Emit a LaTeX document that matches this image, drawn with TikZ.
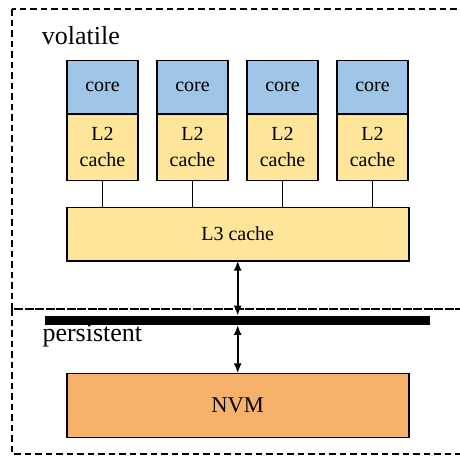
\documentclass[tikz,border=0pt]{standalone}
\usepackage{fontspec}
\setmainfont{Liberation Serif}
\usetikzlibrary{arrows.meta}
\definecolor{corefill}{HTML}{9FC5E8}
\definecolor{cachefill}{HTML}{FFE599}
\definecolor{nvmfill}{HTML}{F6B26B}
\tikzset{
  unit/.style={draw=black, line width=1.6pt, inner sep=0pt, outer sep=0pt,
    font=\fontsize{20}{26}\selectfont, align=center},
  corebox/.style={unit, fill=corefill, minimum width=71pt, minimum height=53.4pt},
  ltwo/.style={unit, fill=cachefill, minimum width=71pt, minimum height=66.6pt},
  wide/.style={unit, minimum width=342pt},
  region/.style={draw=black, line width=1.3pt, dash pattern=on 6.5pt off 4pt},
  label/.style={anchor=base west, inner sep=0pt, font=\fontsize{26}{30}\selectfont},
  link/.style={line width=1.3pt},
  bothways/.style={line width=1.8pt, {Latex[length=10pt,width=8pt]}-{Latex[length=10pt,width=8pt]}}
}
\begin{document}
\begin{tikzpicture}[x=1pt, y=-1pt]
\useasboundingbox (0,0) rectangle (460,455);
\clip (0,0) rectangle (460,455);
% domains
\draw[region] (12,9) rectangle (475,309);
\draw[region] (12,309) rectangle (475,454);
\node[label] (vol) at (41.7,44) {volatile};
\node[label] (per) at (42.3,341.7) {persistent};
% cores and private caches
\foreach \i in {1,...,4} {
  \node[corebox] (core\i) at ({102.5+90*(\i-1)},87) {core};
  \node[ltwo, anchor=north] (l2\i) at (core\i.south) {L2\\cache};
}
% shared cache, memory bus, NVM
\node[wide, fill=cachefill, minimum height=53.4pt] (l3) at (237.7,234) {L3 cache};
\node[fill=black, inner sep=0pt, outer sep=0pt, minimum width=385pt, minimum height=9.3pt] (bus) at (237.7,320.3) {};
\node[wide, fill=nvmfill, minimum height=64pt, font=\fontsize{22.5}{26}\selectfont] (nvm) at (237.7,405.3) {NVM};
\foreach \i in {1,...,4} {
  \draw[link] (l2\i.south) -- (l2\i.south |- l3.north);
}
\draw[bothways] (l3.south) -- (bus.north);
\draw[bothways] (bus.south) -- (nvm.north);
\end{tikzpicture}
\end{document}
